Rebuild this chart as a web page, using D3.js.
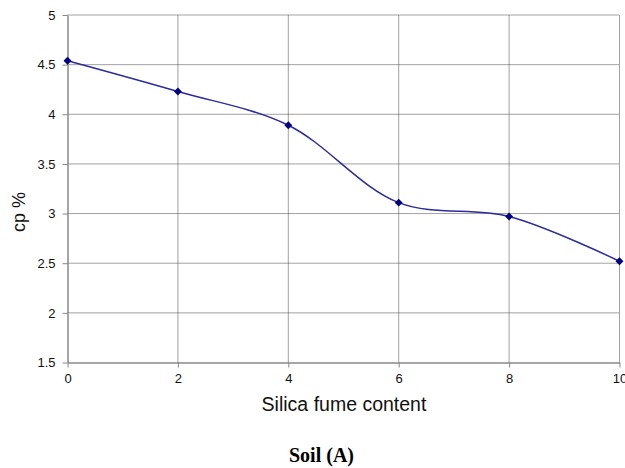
<!DOCTYPE html>
<html><head><meta charset="utf-8">
<script src="https://cdn.jsdelivr.net/npm/d3@7"></script>
<style>body{margin:0;background:#fff}svg{display:block}</style>
</head><body><svg id="c" width="625" height="468"></svg>
<script>
const xValues = [0, 2, 4, 6, 8, 10];
const cpValues = [4.54, 4.23, 3.89, 3.11, 2.97, 2.52];
const xTicks = [0, 2, 4, 6, 8, 10];
const yTicks = [1.5, 2, 2.5, 3, 3.5, 4, 4.5, 5];
const xTitle = "Silica fume content";
const yTitle = "cp %";
const caption = "Soil (A)";

const svg = d3.select("#c");
const x = d3.scaleLinear().domain([0, 10]).range([67.5, 619.5]);
const y = d3.scaleLinear().domain([1.5, 5]).range([362.5, 15]);

// grid
svg.append("g").selectAll("line").data(yTicks.filter(d => d > 1.5)).join("line")
  .attr("x1", x(0)).attr("x2", x(10)).attr("y1", d => y(d)).attr("y2", d => y(d))
  .attr("stroke", "#444").attr("stroke-width", 1).attr("stroke-dasharray", "1,1");
svg.append("g").selectAll("line").data(xTicks.filter(d => d > 0)).join("line")
  .attr("x1", d => x(d)).attr("x2", d => x(d)).attr("y1", y(1.5)).attr("y2", y(5))
  .attr("stroke", "#444").attr("stroke-width", 1).attr("stroke-dasharray", "1,1");

// axes
const xAxis = svg.append("g").attr("transform", `translate(0,${y(1.5)})`)
  .call(d3.axisBottom(x).tickValues(xTicks).tickSize(5).tickSizeOuter(0).tickPadding(6));
const yAxis = svg.append("g").attr("transform", `translate(${x(0)},0)`)
  .call(d3.axisLeft(y).tickValues(yTicks).tickSize(5).tickSizeOuter(0).tickPadding(7).tickFormat(d => String(d)));
[xAxis, yAxis].forEach(a => {
  a.select(".domain").attr("stroke", "#888").attr("stroke-width", 1.5);
  a.selectAll(".tick line").attr("stroke", "#888");
  a.selectAll("text").attr("font-family", "Liberation Sans, Arial, sans-serif").attr("font-size", 13).attr("fill", "#111");
});

// line
const pts = xValues.map((d, i) => [d, cpValues[i]]);
svg.append("path").datum(pts)
  .attr("fill", "none").attr("stroke", "#2b2b9c").attr("stroke-width", 1.5)
  .attr("d", d3.line().x(d => x(d[0])).y(d => y(d[1])).curve(d3.curveCatmullRom.alpha(0.5)));
svg.append("g").selectAll("path").data(pts).join("path")
  .attr("transform", d => `translate(${x(d[0])},${y(d[1])})`)
  .attr("d", d3.symbol(d3.symbolDiamond2, 40))
  .attr("fill", "#000080");

// titles
svg.append("text").attr("x", 344).attr("y", 411).attr("text-anchor", "middle")
  .attr("font-family", "Liberation Sans, Arial, sans-serif").attr("font-size", 19.5).attr("fill", "#111").text(xTitle);
svg.append("text").attr("transform", "translate(24.5,212) rotate(-90)").attr("text-anchor", "middle")
  .attr("font-family", "Liberation Sans, Arial, sans-serif").attr("font-size", 18).attr("fill", "#111").text(yTitle);
svg.append("text").attr("x", 321.5).attr("y", 462).attr("text-anchor", "middle")
  .attr("font-family", "Liberation Serif, Times New Roman, serif").attr("font-weight", "bold").attr("font-size", 20).attr("fill", "#000").text(caption);
</script></body></html>
